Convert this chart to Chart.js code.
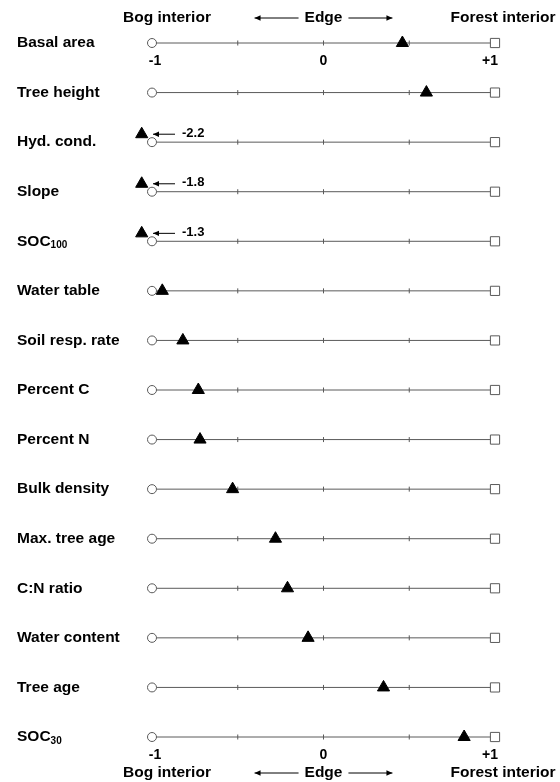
<!DOCTYPE html>
<html>
<head>
<meta charset="utf-8">
<script src="https://cdn.jsdelivr.net/npm/chart.js@4.4.1/dist/chart.umd.min.js"></script>
<style>
  html, body { margin: 0; padding: 0; background: #fff; }
  #wrap { width: 560px; height: 782px; }
</style>
</head>
<body>
<div id="wrap"><canvas id="chart" width="560" height="782"></canvas></div>
<script>
// ============================================
// DATA
// ============================================
const variables = [
  'Basal area', 'Tree height', 'Hyd. cond.', 'Slope', 'SOC_100',
  'Water table', 'Soil resp. rate', 'Percent C', 'Percent N', 'Bulk density',
  'Max. tree age', 'C:N ratio', 'Water content', 'Tree age', 'SOC_30'
];
const scores = [
  0.46, 0.60, -2.2, -1.8, -1.3,
  -0.94, -0.82, -0.73, -0.72, -0.53,
  -0.28, -0.21, -0.09, 0.35, 0.82
];
const axisTicks = [-1, 0, 1];
const axisTickLabels = ['-1', '0', '+1'];
const minorTicks = [-0.5, 0, 0.5];
const endLabels = ['Bog interior', 'Edge', 'Forest interior'];

const FONT = '"Liberation Sans", Arial, Helvetica, sans-serif';
const LINE_COLOR = '#5a5a5a';

// values off the left end are parked just outside -1 and flagged with an arrow
const OFF_X = -1.06;
const OFF_Y = 0.16;

// x range is a little wider than -1..+1 so the parked triangles still get drawn
const X_MIN = -1.12, X_MAX = 1.04;
const PX_PER_UNIT = 171.5;   // -1 sits at 152px, +1 at 495px

function rowLine() {
  const pts = [];
  variables.forEach((v, i) => {
    pts.push({ x: -1, y: i }, { x: 1, y: i }, { x: 0, y: null });
  });
  return pts;
}

const tickPts = [];
variables.forEach((v, i) => minorTicks.forEach(t => tickPts.push({ x: t, y: i })));

const trianglePts = scores.map((s, i) => s < -1
  ? { x: OFF_X, y: i - OFF_Y }
  : { x: s, y: i });

function arrow(ctx, x1, x2, y, head) {
  ctx.beginPath();
  ctx.moveTo(x1, y);
  ctx.lineTo(x2, y);
  ctx.stroke();
  const dir = x2 > x1 ? 1 : -1;
  ctx.beginPath();
  ctx.moveTo(x2, y);
  ctx.lineTo(x2 - dir * head, y - head * 0.45);
  ctx.lineTo(x2 - dir * head, y + head * 0.45);
  ctx.closePath();
  ctx.fill();
}

const labelPlugin = {
  id: 'labels',
  afterDatasetsDraw(chart) {
    const ctx = chart.ctx;
    const xs = chart.scales.x;
    const ys = chart.scales.y;
    ctx.save();
    ctx.fillStyle = '#000';
    ctx.strokeStyle = '#000';
    ctx.lineWidth = 1;

    // row names
    ctx.textBaseline = 'middle';
    ctx.textAlign = 'left';
    variables.forEach((name, i) => {
      const y = ys.getPixelForValue(i);
      const parts = name.split('_');
      ctx.font = 'bold 15.5px ' + FONT;
      ctx.fillText(parts[0], 17, y);
      if (parts[1]) {
        const w = ctx.measureText(parts[0]).width;
        ctx.font = 'bold 10px ' + FONT;
        ctx.fillText(parts[1], 17 + w, y + 4);
      }
    });

    // arrows + numbers for values beyond -1
    scores.forEach((s, i) => {
      if (s >= -1) return;
      const y = ys.getPixelForValue(i - OFF_Y);
      const x0 = xs.getPixelForValue(-1);
      arrow(ctx, x0 + 23, x0 + 1, y, 6);
      ctx.font = 'bold 13px ' + FONT;
      ctx.textAlign = 'left';
      ctx.textBaseline = 'middle';
      ctx.fillText(s.toFixed(1), x0 + 30, y - 1);
    });

    // tick numbers under the first and last rows
    const first = ys.getPixelForValue(0);
    const last = ys.getPixelForValue(variables.length - 1);
    ctx.font = 'bold 14px ' + FONT;
    ctx.textAlign = 'center';
    ctx.textBaseline = 'middle';
    axisTicks.forEach((t, k) => {
      const x = xs.getPixelForValue(t) + (t < 0 ? 3 : t > 0 ? -5 : 0);
      ctx.fillText(axisTickLabels[k], x, first + 18);
      ctx.fillText(axisTickLabels[k], x, last + 18);
    });

    // end labels with the Edge arrows
    const drawEnds = (y) => {
      ctx.font = 'bold 15.5px ' + FONT;
      ctx.textBaseline = 'middle';
      ctx.textAlign = 'center';
      ctx.fillText(endLabels[0], xs.getPixelForValue(-1) + 15, y);
      ctx.fillText(endLabels[2], xs.getPixelForValue(1) + 8, y);
      const cx = xs.getPixelForValue(0);
      ctx.fillText(endLabels[1], cx, y);
      const hw = ctx.measureText(endLabels[1]).width / 2;
      arrow(ctx, cx - hw - 6, cx - hw - 50, y, 6);
      arrow(ctx, cx + hw + 6, cx + hw + 50, y, 6);
    };
    drawEnds(first - 25);
    drawEnds(last + 36);

    ctx.restore();
  }
};

new Chart(document.getElementById('chart'), {
  type: 'scatter',
  data: {
    datasets: [
      {
        label: 'triangles',
        data: trianglePts,
        pointStyle: 'triangle',
        pointRadius: 7,
        backgroundColor: '#000',
        borderColor: '#000',
        borderWidth: 1,
        order: 0
      },
      {
        label: 'bog',
        data: variables.map((v, i) => ({ x: -1, y: i })),
        pointStyle: 'circle',
        pointRadius: 4.5,
        backgroundColor: '#fff',
        borderColor: LINE_COLOR,
        borderWidth: 1,
        order: 1
      },
      {
        label: 'forest',
        data: variables.map((v, i) => ({ x: 1, y: i })),
        pointStyle: 'rect',
        pointRadius: 6.5,
        backgroundColor: '#fff',
        borderColor: LINE_COLOR,
        borderWidth: 1,
        order: 1
      },
      {
        label: 'ticks',
        data: tickPts,
        pointStyle: 'line',
        rotation: 90,
        pointRadius: 2.5,
        borderColor: LINE_COLOR,
        borderWidth: 1,
        order: 2
      },
      {
        label: 'lines',
        data: rowLine(),
        showLine: true,
        spanGaps: false,
        pointRadius: 0,
        borderColor: LINE_COLOR,
        borderWidth: 1,
        order: 3
      }
    ]
  },
  options: {
    responsive: false,
    animation: false,
    clip: false,
    layout: {
      padding: {
        left: 152 - (X_MIN + 1) * -PX_PER_UNIT,
        right: 560 - 495 - (X_MAX - 1) * PX_PER_UNIT,
        top: 43,
        bottom: 45
      }
    },
    plugins: {
      legend: { display: false },
      tooltip: { enabled: false }
    },
    scales: {
      x: { type: 'linear', min: X_MIN, max: X_MAX, display: false },
      y: { type: 'linear', min: 0, max: variables.length - 1, reverse: true, display: false }
    }
  },
  plugins: [labelPlugin]
});
</script>
</body>
</html>
